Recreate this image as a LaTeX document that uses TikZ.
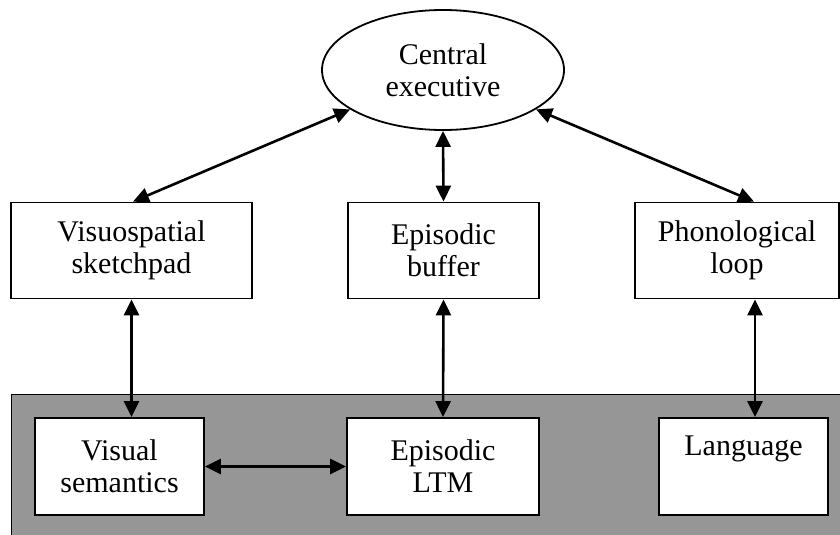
\documentclass[tikz,border=0pt]{standalone}
\usepackage{fontspec}
\setmainfont{Liberation Serif}
\usetikzlibrary{arrows.meta,shapes.geometric}
\definecolor{ltmgray}{RGB}{150,150,150}
\tikzset{
  box/.style={draw=black, line width=1.8pt, fill=white, rectangle, inner sep=0pt,
    align=center, font=\fontsize{30}{32}\selectfont, minimum height=96pt},
  oval/.style={draw=black, line width=1.8pt, fill=white, ellipse, inner sep=0pt,
    align=center, font=\fontsize{30}{32}\selectfont, minimum width=242pt, minimum height=120pt},
  link/.style={line width=2.6pt, {Triangle[length=16pt,width=15pt]}-{Triangle[length=16pt,width=15pt]}}
}
\begin{document}
\begin{tikzpicture}[x=1pt,y=-1pt]
\useasboundingbox (0,0) rectangle (840,535);
\fill[ltmgray, draw=black, line width=1.8pt] (11.5,394.5) rectangle (850,545);
\node[oval] (ce) at (443,70) {Central\\executive};
\node[box, minimum width=241pt] (vss) at (131.5,250.5) {Visuospatial\\sketchpad};
\node[box, minimum width=191pt] (eb) at (443.5,250.5) {Episodic\\buffer};
\node[box, minimum width=204pt] (pl) at (737,250.5) {Phonological\\loop};
\node[box, minimum width=169pt, minimum height=97pt] (vs) at (119.5,466.5) {Visual\\semantics};
\node[box, minimum width=192pt, minimum height=97pt] (ltm) at (443,466.5) {Episodic\\LTM};
\node[box, minimum width=169pt, minimum height=97pt] (lang) at (743.5,466.5) {Language\\\strut};
\draw[link] (ce) -- ([xshift=1.5pt]vss.north);
\draw[link] (ce.south) -- (eb.north);
\draw[link] (ce) -- ([xshift=17pt]pl.north);
\draw[link] (vss.south) -- (vss.south |- vs.north);
\draw[link] (eb.south) -- (ltm.north);
\draw[link] ([xshift=18pt]pl.south) -- ([xshift=18pt]pl.south |- lang.north);
\draw[link] (vs.east) -- (ltm.west);
\end{tikzpicture}
\end{document}
